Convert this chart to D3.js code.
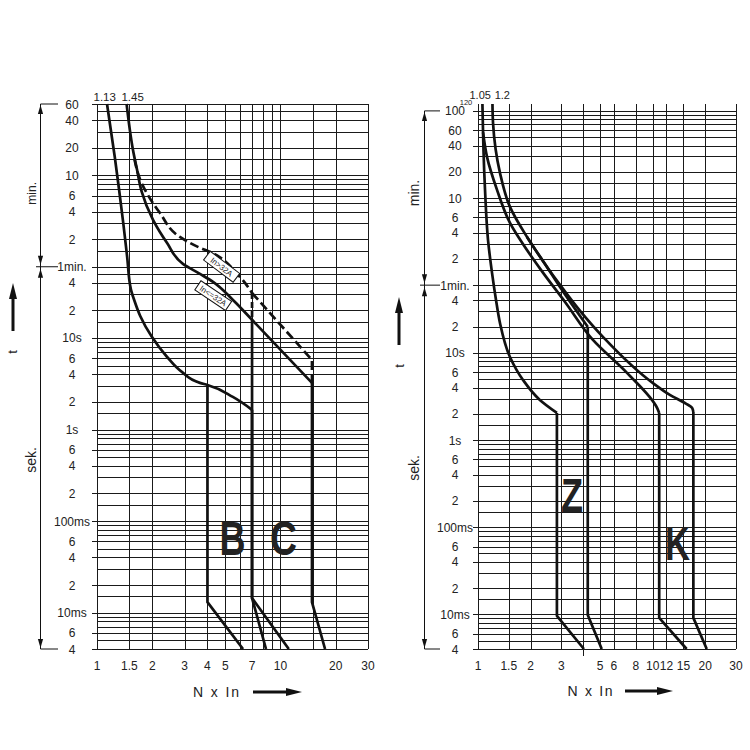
<!DOCTYPE html>
<html><head><meta charset="utf-8">
<script src="https://cdn.jsdelivr.net/npm/d3@7"></script>
<style>
body{margin:0;background:#fff}
svg{display:block}
text{font-family:"Liberation Sans",Arial,sans-serif;fill:#222}
</style>
</head><body>
<svg id="chart" width="750" height="750"></svg>
<script>
// ---------------- DATA ----------------
const mantissas = [1, 1.5, 2, 3, 4, 5, 6, 7, 8, 9];
const secDecades = [0.001, 0.01, 0.1, 1, 10];
const minDecades = [60, 600, 6000];

const leftXGrid = [1, 1.5, 2, 3, 4, 5, 6, 7, 8, 9, 10, 15, 20, 30];
const leftXLabels = [1, 1.5, 2, 3, 4, 5, 7, 10, 20, 30];
const rightXGrid = [1, 1.5, 2, 3, 4, 5, 6, 8, 10, 12, 15, 20, 30];
const rightXLabels = [1, 1.5, 2, 3, 5, 6, 8, 10, 12, 15, 20, 30];

const leftTLabels = [[0.004,"4"],[0.006,"6"],[0.01,"10ms"],[0.02,"2"],[0.04,"4"],[0.06,"6"],[0.1,"100ms"],
  [0.2,"2"],[0.4,"4"],[0.6,"6"],[1,"1s"],[2,"2"],[4,"4"],[6,"6"],[10,"10s"],[20,"2"],[40,"4"],
  [60,"1min."],[120,"2"],[240,"4"],[360,"6"],[600,"10"],[1200,"20"],[2400,"40"],[3600,"60"]];
const rightTLabels = [[0.004,"4"],[0.006,"6"],[0.01,"10ms"],[0.02,"2"],[0.04,"4"],[0.06,"6"],[0.1,"100ms"],
  [0.2,"2"],[0.4,"4"],[0.6,"6"],[1,"1s"],[2,"2"],[4,"4"],[6,"6"],[10,"10s"],[20,"2"],[40,"4"],
  [60,"1min."],[120,"2"],[240,"4"],[360,"6"],[600,"10"],[1200,"20"],[2400,"40"],[3600,"60"],[6000,"100"]];

// Left panel (B / C) curves: [multiple of In, seconds]
const bcLowerThermal = [[1.134,3600],[1.25,950],[1.32,414],[1.39,181],[1.46,77],[1.53,34],[1.6,25.5],[1.72,17.4],
  [1.99,10.3],[2.41,6.2],[2.9,4.26],[3.64,3.23],[4.0,3.07],[5.5,2.27],[7.0,1.64]];
const bMagLower = [[4.0,3.07],[4.0,0.013],[6.25,0.004]];
const cMagLower = [[7.0,1.64],[7.0,0.0144],[11.1,0.004]];
const upperSmall = [[1.45,3600],[1.51,1880],[1.57,1138],[1.65,700],[1.75,400],[2.02,195],[2.41,109],
  [2.94,64.5],[3.64,50.2],[4.29,41],[5.51,26],[7.0,15.8],[14.85,3.23]];
const bMagUpper = [[7.0,15.8],[7.0,0.0144],[8.34,0.004]];
const cMagUpper = [[14.85,3.23],[14.85,0.013],[17.5,0.004]];
const upperLarge = [[1.6,900],[1.72,534],[2.2,233],[2.83,127],[3.64,96.6],[4.13,87],[5.87,49],[7.0,31]];
const upperLargeTail = [[7.0,31],[14.85,5.76],[14.85,3.23]];
const upperLargeDrop = [[7.0,31],[7.0,15.8]];

// Right panel (Z / K) curves
const zLowerThermal = [[1.06,7200],[1.069,3400],[1.075,2143],[1.097,745],[1.141,199],[1.203,83],[1.268,40.6],
  [1.336,22.1],[1.524,9.0],[1.81,4.9],[2.26,2.89],[2.83,2.05]];
const zMagLower = [[2.83,2.05],[2.83,0.0096],[4.04,0.004]];
const kLowerThermal = [[1.069,3400],[1.126,1782],[1.285,745],[1.524,311],[1.907,152],[2.36,83],[3.15,38.5],
  [4.55,14.1],[7.13,5.9],[10.6,2.34],[10.9,2.05]];
const kMagLower = [[10.9,2.05],[10.9,0.0091],[15.65,0.004]];
const zUpperThermal = [[1.21,7200],[1.219,4375],[1.336,1167],[1.524,475],[1.907,215],[2.484,97],[2.948,57],[4.25,19.9]];
const zMagUpper = [[4.25,19.9],[4.25,0.0098],[5.11,0.004]];
const kUpperThermal = [[1.907,215],[2.484,97],[2.948,60.4],[3.84,30.4],[5.19,15.3],[10.0,4.53],[12.54,3.3],[15.5,2.62],[16.8,2.35],[17.1,2.1]];
const kMagUpper = [[17.1,2.1],[17.1,0.0091],[20.4,0.004]];

// annotations
const boxNotes = [{x:4.78, t:60, label:"In>32A", angle:37}, {x:4.3, t:29, label:"In<=32A", angle:34}];
const leftLetters = [{x:5.47, t:0.0425, label:"B", w:26}, {x:10.4, t:0.0425, label:"C", w:27}];
const rightLetters = [{x:3.45, t:0.148, label:"Z", w:22}, {x:13.87, t:0.042, label:"K", w:25}];

// ---------------- BUILD ----------------
const svg = d3.select("#chart");

function timeGrid(maxT) {
  const out = [];
  secDecades.forEach(d => mantissas.forEach(m => { const v = +(m*d).toPrecision(6); if (v < 60) out.push(v); }));
  minDecades.forEach(d => mantissas.forEach(m => { const v = +(m*d).toPrecision(6); if (v <= maxT + 1e-9) out.push(v); }));
  return out.filter(v => v >= 0.004 - 1e-12);
}

function panel(cfg) {
  const g = svg.append("g");
  const x = d3.scaleLog().domain([1, 30]).range(cfg.xr);
  const y = d3.scaleLog().domain([0.004, cfg.tmax]).range(cfg.yr);
  const [x0, x1] = cfg.xr, [yb, yt] = cfg.yr;

  const grid = g.append("g").attr("stroke", "#1a1a1a").attr("stroke-width", 1).attr("shape-rendering", "crispEdges");
  grid.selectAll("line.h").data(timeGrid(cfg.tmax)).join("line")
    .attr("x1", x0).attr("x2", x1).attr("y1", d => Math.round(y(d))+0.5).attr("y2", d => Math.round(y(d))+0.5);
  grid.selectAll("line.v").data(cfg.xGrid).join("line").attr("class","v")
    .attr("y1", yt).attr("y2", yb).attr("x1", d => Math.round(x(d))+0.5).attr("x2", d => Math.round(x(d))+0.5);
  grid.selectAll("line.t").data(cfg.tLabels).join("line").attr("class","t")
    .attr("x1", x0-5).attr("x2", x0).attr("y1", d => Math.round(y(d[0]))+0.5).attr("y2", d => Math.round(y(d[0]))+0.5);

  g.append("g").selectAll("text").data(cfg.tLabels).join("text")
    .attr("x", cfg.labelX).attr("y", d => y(d[0]) + 4.5)
    .attr("text-anchor", "middle").attr("font-size", 12).text(d => d[1]);
  g.append("g").selectAll("text").data(cfg.xLabels).join("text")
    .attr("x", d => x(d)).attr("y", yb + 21)
    .attr("text-anchor", "middle").attr("font-size", 12).text(d => d);

  const smooth = d3.line().x(d => x(d[0])).y(d => y(d[1])).curve(d3.curveMonotoneY);
  const straight = d3.line().x(d => x(d[0])).y(d => y(d[1]));
  const cg = g.append("g").attr("fill", "none").attr("stroke", "#111").attr("stroke-width", 2.7)
    .attr("stroke-linejoin", "round").attr("stroke-linecap", "butt");
  cfg.smooth.forEach(c => cg.append("path").attr("d", smooth(c.d)).attr("stroke-dasharray", c.dash || null));
  cfg.straight.forEach(c => cg.append("path").attr("d", straight(c.d)).attr("stroke-dasharray", c.dash || null));

  return {g, x, y};
}

const L = panel({
  xr: [97, 368], yr: [649, 104], tmax: 3600, xGrid: leftXGrid, xLabels: leftXLabels, tLabels: leftTLabels, labelX: 72,
  smooth: [{d: bcLowerThermal}, {d: upperSmall}, {d: upperLarge, dash: "9,4"}],
  straight: [{d: bMagLower}, {d: cMagLower}, {d: bMagUpper}, {d: cMagUpper},
             {d: upperLargeTail, dash: "9,4"}, {d: upperLargeDrop, dash: "6,3"}]
});
const R = panel({
  xr: [478, 736], yr: [649, 104], tmax: 7200, xGrid: rightXGrid, xLabels: rightXLabels, tLabels: rightTLabels, labelX: 455,
  smooth: [{d: zLowerThermal}, {d: kLowerThermal}, {d: zUpperThermal}, {d: kUpperThermal}],
  straight: [{d: zMagLower}, {d: kMagLower}, {d: zMagUpper}, {d: kMagUpper}]
});

R.g.append("line").attr("x1", Math.round(R.x(4))+0.5).attr("x2", Math.round(R.x(4))+0.5).attr("y1", 649).attr("y2", 656)
  .attr("stroke", "#1a1a1a").attr("stroke-width", 1);

R.g.append("text").attr("x", 466).attr("y", R.y(7200) + 0.5).attr("text-anchor", "middle").attr("font-size", 7.5).text("120");

L.g.append("text").attr("x", L.x(1.13) - 2).attr("y", 101).attr("text-anchor", "middle").attr("font-size", 11.5).text("1.13");
L.g.append("text").attr("x", L.x(1.45) + 6).attr("y", 101).attr("text-anchor", "middle").attr("font-size", 11.5).text("1.45");
R.g.append("text").attr("x", R.x(1.05) - 1.5).attr("y", 99).attr("text-anchor", "middle").attr("font-size", 11).text("1.05");
R.g.append("text").attr("x", R.x(1.2) + 10.5).attr("y", 99).attr("text-anchor", "middle").attr("font-size", 11).text("1.2");

boxNotes.forEach(n => {
  const gg = L.g.append("g").attr("transform", `translate(${L.x(n.x)},${L.y(n.t)}) rotate(${n.angle})`);
  gg.append("rect").attr("x", -18.5).attr("y", -5.5).attr("width", 37).attr("height", 11)
    .attr("fill", "#fff").attr("stroke", "#111").attr("stroke-width", 1);
  gg.append("text").attr("x", 0).attr("y", 3).attr("text-anchor", "middle").attr("font-size", 8).text(n.label);
});

function letters(P, arr, size) {
  arr.forEach(l => P.g.append("text").attr("x", P.x(l.x)).attr("y", P.y(l.t)).attr("text-anchor", "middle")
    .attr("font-size", size).attr("font-weight", "bold").attr("fill", "#111")
    .attr("textLength", l.w).attr("lengthAdjust", "spacingAndGlyphs").text(l.label));
}
letters(L, leftLetters, 48);
letters(R, rightLetters, 48);

const ann = svg.append("g").attr("stroke", "#111").attr("fill", "#111");
function thinArrow(x, y, dir) {
  ann.append("path").attr("d", `M${x},${y}L${x-2.6},${y - dir*9}L${x+2.6},${y - dir*9}Z`).attr("stroke", "none");
}
function bracket(bx, P, tTop, hx2, midX1) {
  const yTop = P.y(tTop), yMid = P.y(60), yBot = P.y(0.004);
  ann.append("line").attr("x1", bx).attr("x2", bx).attr("y1", yTop).attr("y2", yBot).attr("stroke-width", 1);
  ann.append("line").attr("x1", bx).attr("x2", hx2).attr("y1", yTop).attr("y2", yTop).attr("stroke-width", 1);
  ann.append("line").attr("x1", midX1).attr("x2", hx2).attr("y1", yMid).attr("y2", yMid).attr("stroke-width", 1);
  ann.append("line").attr("x1", bx).attr("x2", hx2).attr("y1", yBot).attr("y2", yBot).attr("stroke-width", 1);
  thinArrow(bx, yTop + 1, -1); thinArrow(bx, yMid - 2, 1); thinArrow(bx, yMid + 2, -1); thinArrow(bx, yBot - 1, 1);
}
bracket(40.5, L, 3600, 58, 36);
bracket(424.5, R, 6000, 440, 420);

function rotText(x, y, s, size) {
  svg.append("text").attr("transform", `translate(${x},${y}) rotate(-90)`).attr("text-anchor", "middle")
    .attr("font-size", size).text(s);
}
rotText(36, (L.y(3600) + L.y(60)) / 2 + 8, "min.", 12);
rotText(36, 460, "sek.", 14);
rotText(419, 193, "min.", 14);
rotText(419, 468, "sek.", 14);
rotText(17, 352, "t", 13);
rotText(404, 366, "t", 13);

function thickUp(x, yTip, yTail) {
  ann.append("line").attr("x1", x).attr("x2", x).attr("y1", yTip + 12).attr("y2", yTail).attr("stroke-width", 3);
  ann.append("path").attr("d", `M${x},${yTip}L${x-4},${yTip+16}L${x+4},${yTip+16}Z`).attr("stroke", "none");
}
function thickRight(x1, xTip, y) {
  ann.append("line").attr("x1", x1).attr("x2", xTip - 12).attr("y1", y).attr("y2", y).attr("stroke-width", 3);
  ann.append("path").attr("d", `M${xTip},${y}L${xTip-16},${y-4}L${xTip-16},${y+4}Z`).attr("stroke", "none");
}
thickUp(13, 283, 331);
thickUp(399, 297, 345);
thickRight(253, 302, 692);
thickRight(625, 673, 691);

svg.append("text").attr("x", 216).attr("y", 697).attr("text-anchor", "middle").attr("font-size", 14)
  .attr("textLength", 46).attr("lengthAdjust", "spacing").text("N x In");
svg.append("text").attr("x", 590).attr("y", 696).attr("text-anchor", "middle").attr("font-size", 14)
  .attr("textLength", 45).attr("lengthAdjust", "spacing").text("N x In");
</script>
</body></html>
